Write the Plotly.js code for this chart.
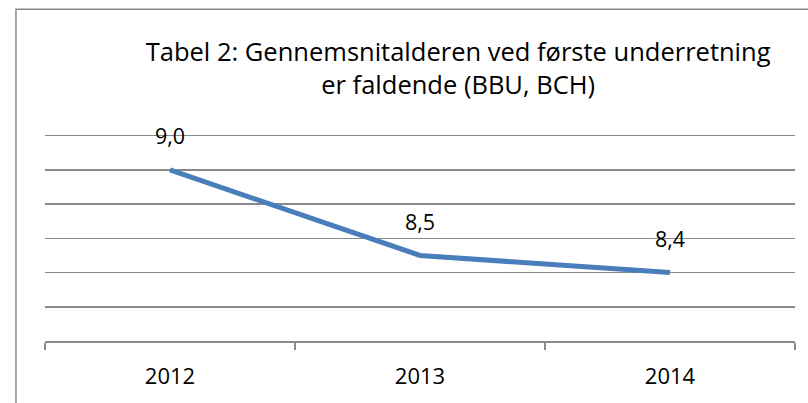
<!DOCTYPE html>
<html>
<head>
<meta charset="utf-8">
<script src="https://cdn.plot.ly/plotly-3.0.1.min.js"></script>
<style>html,body{margin:0;padding:0;background:#fff;}</style>
</head>
<body>
<div id="chart" style="width:808px;height:403px;"></div>
<script>
const years = ['2012', '2013', '2014'];
const avgAge = [9.0, 8.5, 8.4];
const titleText = 'Tabel 2: Gennemsnitalderen ved første underretning<br>er faldende (BBU, BCH)';

const fontFamily = '"Open Sans", "Noto Sans", sans-serif';
const grey = '#8a8a8a';

const trace = {
  x: years,
  y: avgAge,
  type: 'scatter',
  mode: 'lines',
  line: {color: '#4A7EBB', width: 5},
  hoverinfo: 'skip'
};

const annotations = years.map((yr, i) => ({
  x: i, y: avgAge[i], xref: 'x', yref: 'y',
  text: avgAge[i].toFixed(1).replace('.', ','),
  showarrow: false, yshift: 34,
  font: {family: fontFamily, size: 21.5, color: '#000'}
}));

const layout = {
  width: 808, height: 403,
  margin: {l: 45, r: 13, t: 134, b: 62, pad: 0},
  paper_bgcolor: '#fff', plot_bgcolor: '#fff',
  showlegend: false,
  title: {
    text: titleText,
    font: {family: fontFamily, size: 25.5, color: '#000'},
    x: 0.567, xanchor: 'center', xref: 'container',
    y: 0.848, yanchor: 'middle', yref: 'container'
  },
  xaxis: {
    type: 'category', range: [-0.5, 2.5],
    showline: true, linecolor: grey, linewidth: 1.5,
    ticks: 'outside', tickson: 'boundaries', ticklen: 7, tickcolor: grey, tickwidth: 1.5,
    showgrid: false, zeroline: false,
    ticklabelstandoff: 15,
    tickfont: {family: fontFamily, size: 22, color: '#000'},
    fixedrange: true
  },
  yaxis: {
    range: [8.0, 9.21], tick0: 8.0, dtick: 0.2,
    showticklabels: false, ticks: '',
    showgrid: true, gridcolor: grey, gridwidth: 1.5,
    zeroline: false, showline: false, fixedrange: true
  },
  annotations: annotations,
  shapes: [{
    type: 'rect', xref: 'paper', yref: 'paper',
    x0: -0.0387, x1: 1.6, y0: -1, y1: 1.603,
    line: {color: grey, width: 1.5}, fillcolor: 'rgba(0,0,0,0)', layer: 'below'
  }]
};

Plotly.newPlot('chart', [trace], layout, {displayModeBar: false, staticPlot: true});
</script>
</body>
</html>
